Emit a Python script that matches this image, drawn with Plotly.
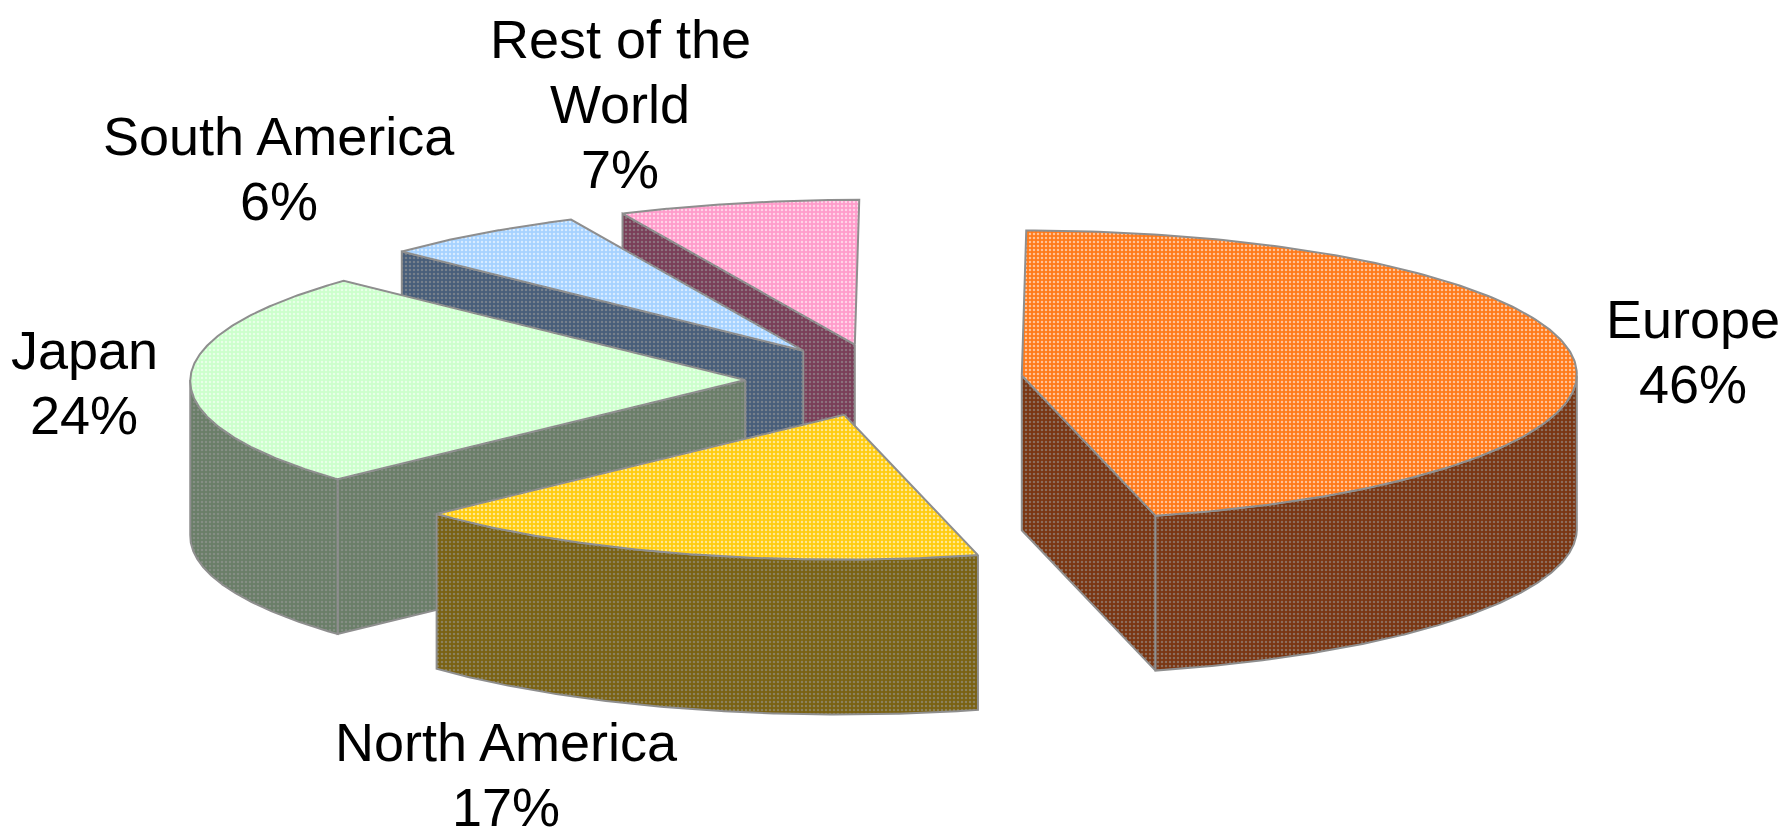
import numpy as np
import plotly.graph_objects as go

# Market share by region
regions = ["Europe", "North America", "Japan", "South America", "Rest of the World"]
shares = [46, 17, 24, 6, 7]
label_lines = [["Europe"], ["North America"], ["Japan"], ["South America"], ["Rest of the", "World"]]

# Slice styling: top face colour, side colour
top_colors = ["#FF7A1A", "#FFCC10", "#CCFFCC", "#A6D2FF", "#FF9CCB"]
side_colors = ["#7A3612", "#7A6212", "#6A7E68", "#485E7A", "#7A3E58"]

# Page / projection geometry (pixels)
W, H = 1784, 838
CX_PX, CY_PX = 884, 380     # pie centre on the page
RX_PX = 555                 # horizontal radius
TILT = 0.261                # vertical squash of the top face
SKEW = 0.008                # slight oblique lean of the pie plane
DEPTH = 0.279               # slab thickness, in radius units
EXPLODE = 0.25              # every slice pulled out by this fraction of the radius
EDGE = "#8E8E8E"

# Label block centres (pixels) and line pitch
label_pos = [(1693, 352), (506, 774), (84, 382), (279, 168), (620, 104)]
LINE_PITCH = 65
FONT = dict(family="Liberation Sans, Arial, sans-serif", size=54, color="black")


def proj(x, y, z=0.0):
    """Project a point of the pie plane (unit radius) to screen units."""
    x, y = np.asarray(x, float), np.asarray(y, float)
    return x + SKEW * y, y * TILT + z


fig = go.Figure()


def add_face(xs, ys, fill, dot):
    fig.add_trace(go.Scatter(
        x=np.append(xs, xs[0]), y=np.append(ys, ys[0]),
        mode="lines", fill="toself", fillcolor=fill,
        fillpattern=dict(shape=".", bgcolor=fill, fgcolor=dot,
                         fgopacity=0.55, size=4, solidity=0.3),
        line=dict(color=EDGE, width=2), hoverinfo="skip", showlegend=False))


# Angles, clockwise from 12 o'clock
total = float(sum(shares))
bounds = np.concatenate([[0], np.cumsum(shares)]) / total * 2 * np.pi
slices = []
for i in range(len(shares)):
    a0, a1 = bounds[i], bounds[i + 1]
    m = 0.5 * (a0 + a1)
    slices.append((i, a0, a1, m))

# Painter's order: slices furthest back first
slices.sort(key=lambda s: -np.cos(s[3]))

for i, a0, a1, m in slices:
    ox, oy = EXPLODE * np.sin(m), EXPLODE * np.cos(m)
    th = np.linspace(a0, a1, 200)
    rx, ry = ox + np.sin(th), oy + np.cos(th)

    # radial cut faces facing the viewer
    for a, visible in ((a0, np.sin(a0) < -1e-6), (a1, np.sin(a1) > 1e-6)):
        if visible:
            ex, ey = ox + np.sin(a), oy + np.cos(a)
            px_t, py_t = proj([ox, ex], [oy, ey])
            px_b, py_b = proj([ex, ox], [ey, oy], -DEPTH)
            add_face(np.concatenate([px_t, px_b]), np.concatenate([py_t, py_b]),
                     side_colors[i], "#9A9A9A")

    # front part of the curved rim
    lo, hi = max(a0, np.pi / 2), min(a1, 3 * np.pi / 2)
    if hi > lo:
        t = np.linspace(lo, hi, 200)
        sx, sy = ox + np.sin(t), oy + np.cos(t)
        tx, ty = proj(sx, sy)
        bx, by = proj(sx[::-1], sy[::-1], -DEPTH)
        add_face(np.concatenate([tx, bx]), np.concatenate([ty, by]),
                 side_colors[i], "#9A9A9A")

    # top face
    tx, ty = proj(np.concatenate([[ox], rx]), np.concatenate([[oy], ry]))
    add_face(tx, ty, top_colors[i], "white")

# Data labels: name lines followed by the percentage
annotations = []
for i in range(len(shares)):
    lines = label_lines[i] + [f"{shares[i]}%"]
    cx, cy = label_pos[i]
    n = len(lines)
    for k, text in enumerate(lines):
        py = cy + (k - (n - 1) / 2) * LINE_PITCH
        annotations.append(dict(
            text=text, x=cx / W, y=1 - py / H, xref="paper", yref="paper",
            xanchor="center", yanchor="middle", showarrow=False, borderpad=0,
            font=FONT))

fig.update_layout(
    width=W, height=H, margin=dict(l=0, r=0, t=0, b=0),
    paper_bgcolor="white", plot_bgcolor="white",
    xaxis=dict(range=[-CX_PX / RX_PX, (W - CX_PX) / RX_PX], visible=False, fixedrange=True),
    yaxis=dict(range=[(CY_PX - H) / RX_PX, CY_PX / RX_PX], visible=False, fixedrange=True),
    annotations=annotations,
)

fig.write_html("out.html")
